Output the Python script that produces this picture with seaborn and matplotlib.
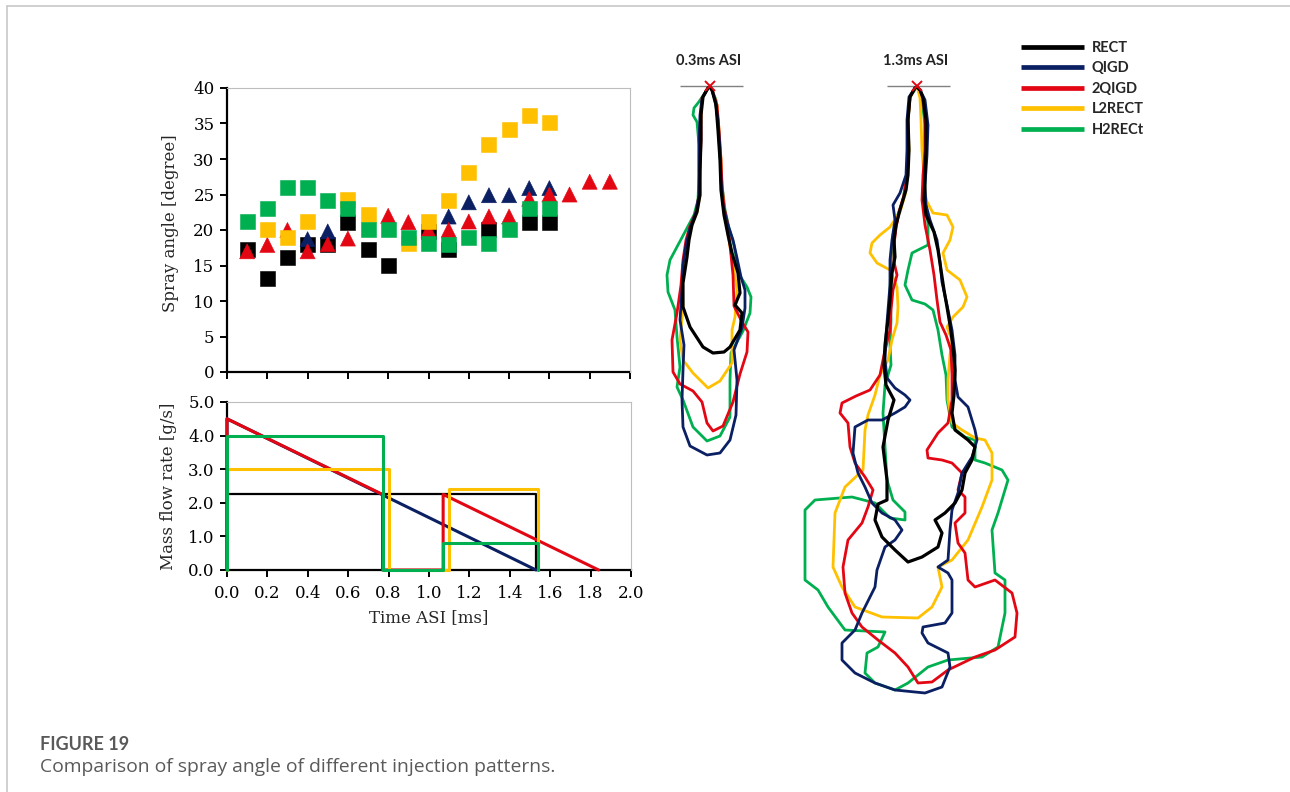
import numpy as np
import pandas as pd
import matplotlib
matplotlib.use("Agg")
import matplotlib.pyplot as plt
from matplotlib.lines import Line2D
import seaborn as sns

# ---------------------------------------------------------------- data
patterns = ["RECT", "QIGD", "2QIGD", "L2RECT", "H2RECt"]
colors = {"RECT": "#000000", "QIGD": "#0b1f63", "2QIGD": "#e30613",
          "L2RECT": "#ffc000", "H2RECt": "#00b050"}
markers = {"RECT": "s", "QIGD": "^", "2QIGD": "^", "L2RECT": "s", "H2RECt": "s"}

# spray angle [degree] vs time after start of injection [ms]
rect_time = [0.1, 0.2, 0.3, 0.4, 0.5, 0.6, 0.7, 0.8, 1.0, 1.1, 1.3, 1.5, 1.6]
rect_angle = [17.2, 13.2, 16.1, 18.0, 18.0, 21.1, 17.2, 15.0, 19.8, 17.2, 20.1, 21.1, 21.1]
qigd_time = [0.4, 0.5, 1.1, 1.2, 1.3, 1.4, 1.5, 1.6]
qigd_angle = [18.7, 19.8, 21.9, 23.9, 24.9, 24.9, 25.9, 25.9]
qigd2_time = [0.1, 0.2, 0.3, 0.4, 0.5, 0.6, 0.8, 0.9, 1.0, 1.1, 1.2, 1.3, 1.4, 1.5,
              1.6, 1.7, 1.8, 1.9]
qigd2_angle = [17.0, 17.9, 20.0, 17.0, 18.0, 18.8, 22.0, 21.1, 20.0, 20.0, 21.2, 21.9,
               21.9, 24.4, 25.0, 25.0, 26.8, 26.8]
l2rect_time = [0.2, 0.3, 0.4, 0.6, 0.7, 0.9, 1.0, 1.1, 1.2, 1.3, 1.4, 1.5, 1.6]
l2rect_angle = [20.1, 19.0, 21.2, 24.3, 22.2, 18.1, 21.2, 24.1, 28.1, 32.1, 34.1, 36.1, 35.1]
h2rect_time = [0.1, 0.2, 0.3, 0.4, 0.5, 0.6, 0.7, 0.8, 0.9, 1.0, 1.1, 1.2, 1.3, 1.4,
               1.5, 1.6]
h2rect_angle = [21.2, 23.0, 26.0, 26.0, 24.1, 23.0, 20.1, 20.1, 19.0, 18.1, 18.0, 19.0,
                18.1, 20.1, 23.0, 23.0]

# injection rate shapes: mass flow rate [g/s] vs time [ms]
rect_flow_t = [0.0, 0.0, 1.53, 1.53]
rect_flow = [0.0, 2.25, 2.25, 0.0]
qigd_flow_t = [0.0, 0.0, 1.53]
qigd_flow = [0.0, 4.5, 0.0]
qigd2_flow_t = [0.0, 0.0, 0.77, 0.77, 1.07, 1.07, 1.84]
qigd2_flow = [0.0, 4.5, 2.25, 0.0, 0.0, 2.25, 0.0]
l2rect_flow_t = [0.0, 0.0, 0.80, 0.80, 1.10, 1.10, 1.54, 1.54]
l2rect_flow = [0.0, 3.0, 3.0, 0.0, 0.0, 2.4, 2.4, 0.0]
h2rect_flow_t = [0.0, 0.0, 0.77, 0.77, 1.07, 1.07, 1.54, 1.54]
h2rect_flow = [0.0, 4.0, 4.0, 0.0, 0.0, 0.8, 0.8, 0.0]

# spray outlines: lateral offset / axial distance from the nozzle tip
rect_03_lat = [0, -2, -7, -9, -9, -10, -10, -13, -18, -21, -23, -27, -27, -20, -7, 3, 14, 20,
               30, 32, 25, 30, 28, 22, 18, 14, 11, 10, 8, 6, 2, 0]
rect_03_ax = [0, 1, 10, 28, 53, 83, 108, 125, 138, 153, 170, 196, 220, 240, 260, 266, 265,
              260, 243, 226, 218, 206, 186, 166, 148, 128, 103, 73, 43, 18, 3, 0]
qigd_03_lat = [0, -2, -8, -10, -11, -11, -11, -14, -20, -24, -27, -28, -30, -26, -27, -28,
               -27, -20, -3, 10, 20, 26, 27, 24, 32, 35, 35, 31, 27, 23, 17, 13, 11, 10, 8,
               5, 2, 0]
qigd_03_ax = [0, 1, 11, 28, 53, 83, 108, 125, 141, 158, 178, 203, 233, 258, 283, 313, 340,
              359, 368, 366, 353, 328, 293, 263, 241, 221, 203, 190, 171, 153, 135, 118, 93,
              63, 33, 13, 3, 0]
qigd2_03_lat = [0, -2, -8, -9, -9, -10, -11, -14, -20, -24, -27, -29, -33, -38, -37, -30,
                -17, -8, -3, 3, 13, 23, 30, 37, 38, 32, 24, 23, 20, 18, 14, 12, 11, 9, 7, 2, 0]
qigd2_03_ax = [0, 1, 11, 28, 53, 83, 108, 125, 139, 153, 173, 198, 226, 253, 285, 297, 304,
               315, 336, 344, 339, 315, 287, 265, 245, 235, 219, 188, 158, 138, 120, 98, 73,
               43, 18, 3, 0]
l2rect_03_lat = [0, -2, -8, -9, -10, -10, -10, -13, -18, -22, -25, -28, -27, -30, -27, -17,
                 -2, 10, 22, 22, 25, 27, 23, 20, 17, 14, 12, 11, 9, 7, 2, 0]
l2rect_03_ax = [0, 1, 11, 28, 53, 83, 108, 125, 138, 153, 173, 196, 220, 253, 273, 286, 301,
                294, 276, 243, 230, 203, 176, 160, 141, 123, 98, 73, 43, 18, 3, 0]
h2rect_03_lat = [0, -2, -7, -12, -16, -17, -13, -11, -11, -12, -16, -24, -32, -40, -43, -42,
                 -35, -33, -30, -33, -27, -17, -3, 10, 20, 20, 21, 33, 40, 41, 37, 30, 27, 24,
                 19, 15, 12, 10, 8, 6, 2, 0]
h2rect_03_ax = [0, 1, 9, 16, 21, 28, 35, 58, 88, 113, 128, 143, 158, 173, 188, 205, 223, 250,
                280, 300, 313, 340, 354, 349, 330, 293, 266, 244, 226, 210, 200, 189, 175,
                158, 141, 123, 98, 68, 38, 13, 3, 0]

rect_13_lat = [0, -2, -7, -9, -8, -9, -11, -17, -21, -23, -22, -25, -27, -29, -32, -33, -31,
               -23, -29, -34, -30, -30, -39, -42, -35, -22, -9, 5, 21, 25, 18, 28, 38, 45, 48,
               55, 58, 51, 38, 35, 37, 38, 36, 33, 30, 27, 24, 21, 17, 9, 7, 8, 9, 9, 6, 3, 0]
rect_13_ax = [0, 1, 10, 33, 63, 88, 103, 123, 138, 153, 170, 186, 213, 233, 258, 278, 298,
              313, 333, 360, 393, 413, 417, 433, 450, 463, 475, 470, 460, 446, 433, 426, 416,
              403, 386, 373, 360, 353, 343, 326, 308, 283, 260, 238, 220, 203, 183, 163, 145,
              128, 113, 88, 63, 33, 11, 3, 0]
qigd_13_lat = [0, -2, -8, -10, -10, -11, -17, -24, -22, -25, -27, -27, -29, -31, -32, -30,
               -22, -12, -7, -12, -22, -35, -49, -62, -64, -59, -52, -45, -35, -22, -15, -22,
               -32, -40, -42, -55, -62, -75, -75, -62, -42, -22, 8, 25, 33, 31, 11, 5, 6, 28,
               35, 35, 31, 21, 31, 33, 35, 41, 45, 55, 60, 58, 51, 41, 38, 38, 35, 30, 25, 23,
               20, 13, 9, 8, 10, 11, 8, 3, 0]
qigd_13_ax = [0, 1, 10, 33, 63, 88, 106, 118, 133, 153, 173, 198, 223, 248, 273, 291, 301,
              308, 313, 320, 326, 333, 333, 340, 366, 386, 400, 416, 426, 433, 443, 453, 460,
              483, 500, 526, 543, 556, 573, 586, 596, 603, 606, 600, 580, 566, 556, 546, 540,
              536, 526, 493, 486, 480, 473, 443, 423, 406, 386, 370, 353, 343, 320, 310, 293,
              268, 243, 218, 195, 175, 153, 133, 118, 98, 68, 38, 13, 3, 0]
qigd2_13_lat = [0, -2, -7, -9, -9, -10, -13, -18, -21, -23, -23, -20, -24, -26, -27, -33,
                -37, -47, -61, -75, -77, -69, -67, -62, -52, -44, -49, -55, -69, -74, -72,
                -65, -55, -39, -22, -9, 1, 15, 31, 58, 78, 98, 100, 95, 78, 58, 51, 48, 41,
                38, 48, 48, 41, 45, 35, 25, 11, 10, 21, 31, 35, 35, 34, 29, 23, 20, 17, 13, 8,
                5, 6, 8, 8, 6, 3, 0]
qigd2_13_ax = [0, 1, 10, 33, 63, 88, 108, 125, 141, 158, 175, 188, 203, 223, 243, 268, 288,
               303, 309, 316, 326, 336, 360, 376, 390, 403, 420, 436, 453, 480, 506, 526, 540,
               553, 566, 580, 596, 595, 583, 570, 563, 550, 526, 506, 493, 500, 493, 466, 456,
               436, 426, 410, 403, 386, 376, 373, 371, 363, 346, 336, 313, 288, 263, 248, 235,
               213, 188, 163, 138, 113, 88, 63, 33, 11, 3, 0]
l2rect_13_lat = [0, -2, -7, -9, -8, -10, -12, -17, -27, -37, -45, -47, -40, -27, -20, -19,
                 -20, -25, -29, -37, -42, -49, -52, -54, -72, -82, -84, -75, -62, -35, 1, 15,
                 25, 21, 35, 51, 65, 75, 75, 68, 58, 45, 35, 31, 31, 33, 35, 30, 36, 46, 50,
                 43, 30, 26, 33, 36, 30, 16, 9, 7, 5, 4, 3, 1, 0]
l2rect_13_ax = [0, 1, 10, 33, 63, 88, 108, 125, 140, 148, 156, 166, 176, 183, 200, 220, 236,
                253, 273, 288, 308, 328, 343, 383, 400, 426, 480, 500, 520, 530, 531, 520,
                500, 480, 473, 453, 420, 393, 366, 353, 351, 343, 336, 313, 293, 268, 253,
                240, 230, 220, 210, 193, 183, 166, 153, 140, 128, 126, 113, 88, 63, 33, 11,
                3, 0]
h2rect_13_lat = [0, -1, -7, -9, -9, -10, -14, -20, -24, -26, -27, -26, -27, -26, -32, -34,
                 -32, -30, -24, -12, -12, -27, -42, -65, -102, -112, -112, -99, -89, -72, -32,
                 -39, -50, -52, -42, -22, -9, 11, 31, 65, 81, 88, 88, 78, 75, 81, 91, 85, 68,
                 58, 58, 48, 35, 30, 29, 25, 21, 16, 8, -5, -12, -9, -5, 11, 11, 8, 8, 8, 5,
                 2, 0]
h2rect_13_ax = [0, 1, 10, 33, 63, 88, 113, 130, 148, 173, 203, 233, 258, 278, 298, 326, 360,
                393, 413, 425, 433, 431, 416, 410, 413, 423, 493, 503, 520, 543, 545, 560,
                566, 586, 596, 603, 596, 580, 573, 570, 560, 526, 493, 486, 443, 426, 393,
                383, 376, 373, 353, 350, 340, 313, 288, 268, 243, 223, 217, 213, 198, 183,
                166, 158, 138, 103, 73, 38, 13, 3, 0]

# ---------------------------------------------------------------- tables
angle_series = {"RECT": (rect_time, rect_angle), "QIGD": (qigd_time, qigd_angle),
                "2QIGD": (qigd2_time, qigd2_angle), "L2RECT": (l2rect_time, l2rect_angle),
                "H2RECt": (h2rect_time, h2rect_angle)}
flow_series = {"RECT": (rect_flow_t, rect_flow), "QIGD": (qigd_flow_t, qigd_flow),
               "2QIGD": (qigd2_flow_t, qigd2_flow), "L2RECT": (l2rect_flow_t, l2rect_flow),
               "H2RECt": (h2rect_flow_t, h2rect_flow)}
outlines_03 = {"RECT": (rect_03_lat, rect_03_ax), "QIGD": (qigd_03_lat, qigd_03_ax),
               "2QIGD": (qigd2_03_lat, qigd2_03_ax), "L2RECT": (l2rect_03_lat, l2rect_03_ax),
               "H2RECt": (h2rect_03_lat, h2rect_03_ax)}
outlines_13 = {"RECT": (rect_13_lat, rect_13_ax), "QIGD": (qigd_13_lat, qigd_13_ax),
               "2QIGD": (qigd2_13_lat, qigd2_13_ax), "L2RECT": (l2rect_13_lat, l2rect_13_ax),
               "H2RECt": (h2rect_13_lat, h2rect_13_ax)}

angle_df = pd.concat(
    [pd.DataFrame({"time": t, "angle": a, "pattern": p}) for p, (t, a) in angle_series.items()],
    ignore_index=True)

# ---------------------------------------------------------------- figure
W, H = 1290, 792
sns.set_theme(style="white")
plt.rcParams["font.family"] = ["DejaVu Serif"]
fig = plt.figure(figsize=(W / 100, H / 100), dpi=100, facecolor="white")


def frac_box(x0, y0, x1, y1):
    return [x0 / W, 1 - y1 / H, (x1 - x0) / W, (y1 - y0) / H]


def style_axes(ax):
    for side in ("left", "bottom"):
        ax.spines[side].set_color("black")
        ax.spines[side].set_linewidth(1.6)
        ax.spines[side].set_zorder(2)
    for side in ("top", "right"):
        ax.spines[side].set_color("#bdbdbd")
        ax.spines[side].set_linewidth(0.8)
    ax.tick_params(axis="both", which="major", direction="out", length=5, width=1.4,
                   color="black", labelsize=12, labelcolor="black", pad=4,
                   bottom=True, left=True, top=False, right=False)


# spray angle scatter
ax_angle = fig.add_axes(frac_box(227, 88, 630, 372))
sns.scatterplot(data=angle_df, x="time", y="angle", hue="pattern", style="pattern",
                hue_order=patterns, style_order=patterns, palette=colors, markers=markers,
                s=118, edgecolor="face", linewidth=0.4, legend=False, ax=ax_angle,
                zorder=3, clip_on=False)
ax_angle.set_xlim(0, 2.0)
ax_angle.set_ylim(0, 40)
ax_angle.set_xticks(np.arange(0, 2.01, 0.2))
ax_angle.set_xticklabels([])
ax_angle.set_yticks(np.arange(0, 41, 5))
ax_angle.set_xlabel("")
ax_angle.set_ylabel("Spray angle [degree]", fontsize=12)
ax_angle.yaxis.set_label_coords(-0.141, 0.525)
ax_angle.yaxis.label.set_verticalalignment("center")
style_axes(ax_angle)

# injection rate profiles
ax_flow = fig.add_axes(frac_box(227, 402, 631, 570))
for p in patterns:
    t, m = flow_series[p]
    sns.lineplot(x=t, y=m, sort=False, estimator=None, color=colors[p],
                 lw=1.6 if p == "RECT" else 2.2, ax=ax_flow, clip_on=False, zorder=3)
ax_flow.set_xlim(0, 2.0)
ax_flow.set_ylim(0, 5.0)
ax_flow.set_xticks(np.arange(0, 2.01, 0.2))
ax_flow.set_xticklabels([f"{v:.1f}" for v in np.arange(0, 2.01, 0.2)])
ax_flow.set_yticks(np.arange(0, 5.01, 1.0))
ax_flow.set_yticklabels([f"{v:.1f}" for v in np.arange(0, 5.01, 1.0)])
ax_flow.set_xlabel("Time ASI [ms]", fontsize=12)
ax_flow.set_ylabel("Mass flow rate [g/s]", fontsize=12)
ax_flow.xaxis.set_label_coords(0.5, -0.285)
ax_flow.xaxis.label.set_verticalalignment("center")
ax_flow.yaxis.set_label_coords(-0.146, 0.5)
ax_flow.yaxis.label.set_verticalalignment("center")
style_axes(ax_flow)
ax_flow.tick_params(axis="x", pad=6)


# spray outline panels
def outline_panel(box, tip, outlines, title):
    x0, y0, x1, y1 = box
    ax = fig.add_axes(frac_box(x0, y0, x1, y1))
    ax.set_xlim(x0 - tip[0], x1 - tip[0])
    ax.set_ylim(y1 - tip[1], y0 - tip[1])
    ax.set_axis_off()
    ax.hlines(-1, -30, 33, color="#808080", lw=1.0, zorder=1)
    for p in reversed(patterns):
        lat, axial = outlines[p]
        sns.lineplot(x=lat, y=axial, sort=False, estimator=None, color=colors[p],
                     lw=2.3 if p == "RECT" else 2.0, ax=ax, zorder=2)
    ax.plot(0, -1, marker="x", color="#e30613", ms=7, mew=1.4, zorder=5)
    ax.text(-1, -26, title, ha="center", va="center", fontsize=10.5, fontweight="bold",
            family="Lato", color="#222222")
    ax.set_xlabel("")
    ax.set_ylabel("")
    return ax


outline_panel((640, 40, 790, 475), (710, 87), outlines_03, "0.3ms ASI")
outline_panel((790, 40, 1040, 710), (917, 87), outlines_13, "1.3ms ASI")

# legend
handles = [Line2D([], [], color=colors[p], lw=3.4, solid_capstyle="butt") for p in patterns]
fig.legend(handles, patterns, loc="upper left", bbox_to_anchor=(1021 / W, 1 - 41 / H),
           frameon=False, borderpad=0, borderaxespad=0, handlelength=4.3,
           handletextpad=0.55, labelspacing=0.44,
           prop={"family": "Lato", "weight": "bold", "size": 10.5})

# caption and page frame
fig.text(40 / W, 1 - 745 / H, "FIGURE 19", ha="left", va="center", fontsize=13,
         fontweight="bold", family="Lato", color="#595959")
fig.text(40 / W, 1 - 767 / H, "Comparison of spray angle of different injection patterns.",
         ha="left", va="center", fontsize=13.9, family="Open Sans", color="#5a5a5a")
fig.add_artist(Line2D([7 / W, 1], [1 - 6 / H, 1 - 6 / H], color="#c8c8c8", lw=1.2))
fig.add_artist(Line2D([7 / W, 7 / W], [0, 1 - 6 / H], color="#c8c8c8", lw=1.2))

fig.savefig("out.png", dpi=100, facecolor="white")
